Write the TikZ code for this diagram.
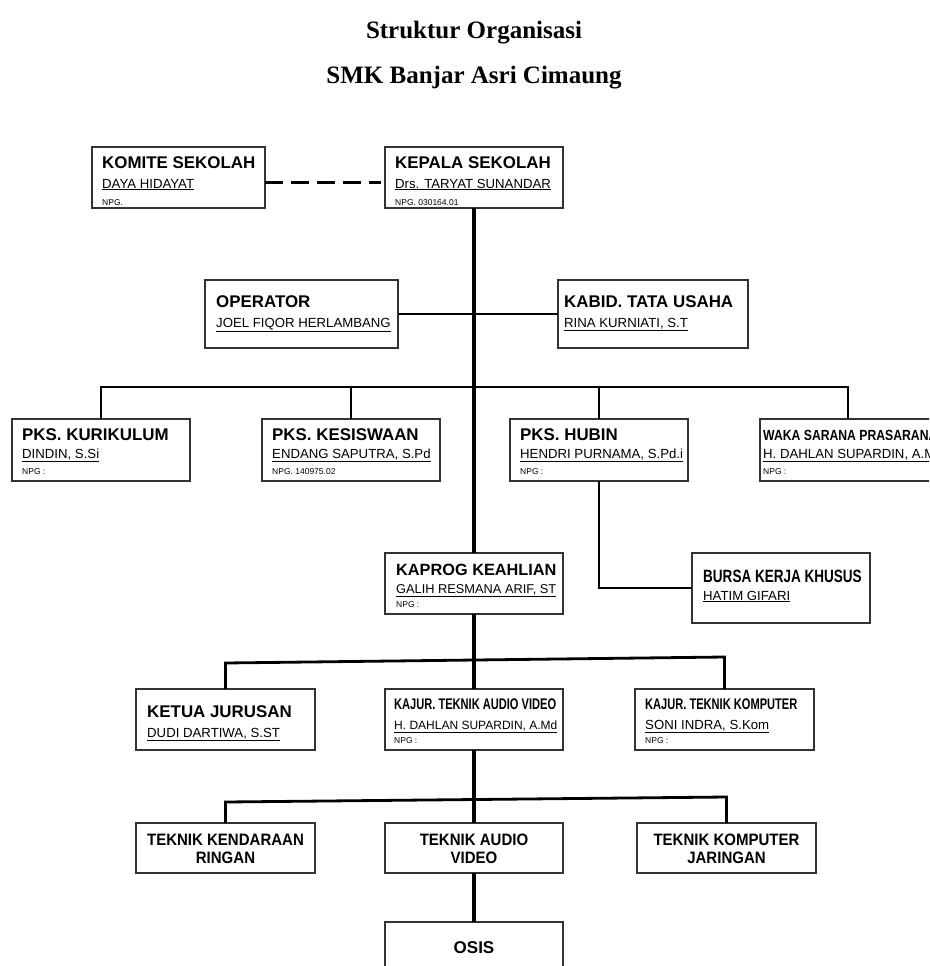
\documentclass[tikz,border=0pt]{standalone}
\usepackage{fontspec}
\setmainfont{Liberation Sans}
\newfontfamily\titlefont{Liberation Serif}
\newfontfamily\narrowkaj[FakeStretch=0.72]{Liberation Sans}
\newfontfamily\narrowbkk[FakeStretch=0.76]{Liberation Sans}
\newfontfamily\narrowwaka[FakeStretch=0.83]{Liberation Sans}
\newfontfamily\narrowtek[FakeStretch=0.91]{Liberation Sans}
\usetikzlibrary{calc}
\newcommand\obox[5]{\node[orgbox, minimum width=#4pt, minimum height=#5pt] (#1) at (#2,#3) {};}
\begin{document}
\begin{tikzpicture}[x=1pt,y=-1pt,
  orgbox/.style={draw=black!80, line width=1.3pt, anchor=north west, inner sep=0pt, outer sep=0pt},
  spine/.style={line width=4pt},
  branch/.style={line width=2.8pt},
  drop/.style={line width=2.2pt},
  thinlink/.style={line width=2pt},
  dashlink/.style={line width=3pt, dash pattern=on 18pt off 8pt},
  ttl/.style={anchor=base west, inner sep=0pt, font=\bfseries\fontsize{16.9pt}{20pt}\selectfont},
  kaj/.style={anchor=base west, inner sep=0pt, font=\narrowkaj\bfseries\fontsize{15.4pt}{18pt}\selectfont},
  bkkt/.style={anchor=base west, inner sep=0pt, font=\narrowbkk\bfseries\fontsize{17.8pt}{20pt}\selectfont},
  wakat/.style={anchor=base west, inner sep=0pt, font=\narrowwaka\bfseries\fontsize{14.7pt}{18pt}\selectfont},
  nm/.style={anchor=base west, inner sep=0pt, font=\fontsize{13.2pt}{15pt}\selectfont},
  nms/.style={anchor=base west, inner sep=0pt, font=\fontsize{12pt}{14pt}\selectfont},
  npg/.style={anchor=base west, inner sep=0pt, font=\fontsize{8.5pt}{10pt}\selectfont},
  tek/.style={inner sep=0pt, align=center, font=\narrowtek\bfseries\fontsize{16.5pt}{18pt}\selectfont},
  head/.style={anchor=base, inner sep=0pt, font=\titlefont\bfseries\fontsize{25pt}{30pt}\selectfont}]
\useasboundingbox (0,0) rectangle (929,966);
\clip (0,0) rectangle (929,966);
\fill[white] (0,0) rectangle (929,966);

% titles
\node[head] (h1) at (474,38) {Struktur Organisasi};
\node[head] (h2) at (474,84) {SMK Banjar Asri Cimaung};

% boxes
\obox{kom}{92}{147}{173}{61}
\obox{kep}{385}{147}{178}{61}
\obox{opr}{205}{280}{193}{68}
\obox{tu}{558}{280}{190}{68}
\obox{kur}{12}{419}{178}{62}
\obox{kes}{262}{419}{178}{62}
\obox{hub}{510}{419}{178}{62}
\obox{waka}{760}{419}{176}{62}
\obox{kap}{385}{553}{178}{61}
\obox{bkk}{692}{553}{178}{70}
\obox{ket}{136}{689}{179}{61}
\obox{kav}{385}{689}{178}{61}
\obox{ktk}{635}{689}{179}{61}
\obox{tkr}{136}{823}{179}{50}
\obox{tav}{385}{823}{178}{50}
\obox{tkj}{637}{823}{179}{50}
\obox{osis}{385}{922}{178}{60}

% connectors
\draw[dashlink] ([yshift=-5pt]kom.east) -- ([yshift=-5pt,xshift=-4pt]kep.west);
\draw[spine] (kep.south) -- (kap.north);
\draw[thinlink] (opr.east) -- (tu.west);
\coordinate (bar) at (0,387);
\draw[branch] (kur.north) |- (bar -| waka.north) -- (waka.north);
\draw[drop] (kes.north) -- (kes.north |- bar);
\draw[drop] (hub.north) -- (hub.north |- bar);
\draw[branch] (hub.south) |- (bkk.west);
\draw[spine] (kap.south) -- (kav.north);
\draw[branch] (ket.north) -- ++(0,-26) -- ($(ktk.north)+(0,-32)$) -- (ktk.north);
\draw[spine] (kav.south) -- (tav.north);
\draw[branch] (tkr.north) -- ++(0,-21) -- ($(tkj.north)+(0,-26)$) -- (tkj.north);
\draw[spine] (tav.south) -- (osis.north);

% texts
\node[ttl] (komT) at ([shift={(10,21)}]kom.north west) {KOMITE SEKOLAH};
\node[nm]  (komN) at ([shift={(10,41)}]kom.north west) {\underline{DAYA HIDAYAT}};
\node[npg] (komP) at ([shift={(10,58)}]kom.north west) {NPG.};

\node[ttl] (kepT) at ([shift={(10,21)}]kep.north west) {KEPALA SEKOLAH};
\node[nm]  (kepN) at ([shift={(10,41)}]kep.north west) {\underline{Drs. TARYAT SUNANDAR}};
\node[npg] (kepP) at ([shift={(10,58)}]kep.north west) {NPG. 030164.01};

\node[ttl] (oprT) at ([shift={(11,27)}]opr.north west) {OPERATOR};
\node[nm]  (oprN) at ([shift={(11,47)}]opr.north west) {\underline{JOEL FIQOR HERLAMBANG}};

\node[ttl] (tuT) at ([shift={(6,27)}]tu.north west) {KABID. TATA USAHA};
\node[nm]  (tuN) at ([shift={(6,47)}]tu.north west) {\underline{RINA KURNIATI, S.T}};

\node[ttl] (kurT) at ([shift={(10,21)}]kur.north west) {PKS. KURIKULUM};
\node[nm]  (kurN) at ([shift={(10,39)}]kur.north west) {\underline{DINDIN, S.Si}};
\node[npg] (kurP) at ([shift={(10,55)}]kur.north west) {NPG :};

\node[ttl] (kesT) at ([shift={(10,21)}]kes.north west) {PKS. KESISWAAN};
\node[nm]  (kesN) at ([shift={(10,39)}]kes.north west) {\underline{ENDANG SAPUTRA, S.Pd}};
\node[npg] (kesP) at ([shift={(10,55)}]kes.north west) {NPG. 140975.02};

\node[ttl] (hubT) at ([shift={(10,21)}]hub.north west) {PKS. HUBIN};
\node[nm]  (hubN) at ([shift={(10,39)}]hub.north west) {\underline{HENDRI PURNAMA, S.Pd.i}};
\node[npg] (hubP) at ([shift={(10,55)}]hub.north west) {NPG :};

\node[wakat] (wakT) at ([shift={(3,21)}]waka.north west) {WAKA SARANA PRASARANA};
\node[nm]  (wakN) at ([shift={(3,39)}]waka.north west) {\underline{H. DAHLAN SUPARDIN, A.Md}};
\node[npg] (wakP) at ([shift={(3,55)}]waka.north west) {NPG :};

\node[ttl, font=\bfseries\fontsize{16.3pt}{20pt}\selectfont] (kapT) at ([shift={(11,22)}]kap.north west) {KAPROG KEAHLIAN};
\node[nm, font=\fontsize{12.8pt}{15pt}\selectfont]  (kapN) at ([shift={(11,40)}]kap.north west) {\underline{GALIH RESMANA ARIF, ST}};
\node[npg] (kapP) at ([shift={(11,54)}]kap.north west) {NPG :};

\node[bkkt] (bkkT) at ([shift={(11,29)}]bkk.north west) {BURSA KERJA KHUSUS};
\node[nm]  (bkkN) at ([shift={(11,47)}]bkk.north west) {\underline{HATIM GIFARI}};

\node[ttl] (ketT) at ([shift={(11,28)}]ket.north west) {KETUA JURUSAN};
\node[nm]  (ketN) at ([shift={(11,48)}]ket.north west) {\underline{DUDI DARTIWA, S.ST}};

\node[kaj] (kavT) at ([shift={(9,20)}]kav.north west) {KAJUR. TEKNIK AUDIO VIDEO};
\node[nms] (kavN) at ([shift={(9,40)}]kav.north west) {\underline{H. DAHLAN SUPARDIN, A.Md}};
\node[npg] (kavP) at ([shift={(9,54)}]kav.north west) {NPG :};

\node[kaj] (ktkT) at ([shift={(10,20)}]ktk.north west) {KAJUR. TEKNIK KOMPUTER};
\node[nm]  (ktkN) at ([shift={(10,40)}]ktk.north west) {\underline{SONI INDRA, S.Kom}};
\node[npg] (ktkP) at ([shift={(10,54)}]ktk.north west) {NPG :};

\node[tek] (tkrT) at ([yshift=-1pt]tkr.center) {TEKNIK KENDARAAN\\RINGAN};
\node[tek] (tavT) at ([yshift=-1pt]tav.center) {TEKNIK AUDIO\\VIDEO};
\node[tek] (tkjT) at ([yshift=-1pt]tkj.center) {TEKNIK KOMPUTER\\JARINGAN};
\node[anchor=base, inner sep=0pt, font=\bfseries\fontsize{17pt}{20pt}\selectfont] (osisT) at (474,953) {OSIS};
\end{tikzpicture}
\end{document}
